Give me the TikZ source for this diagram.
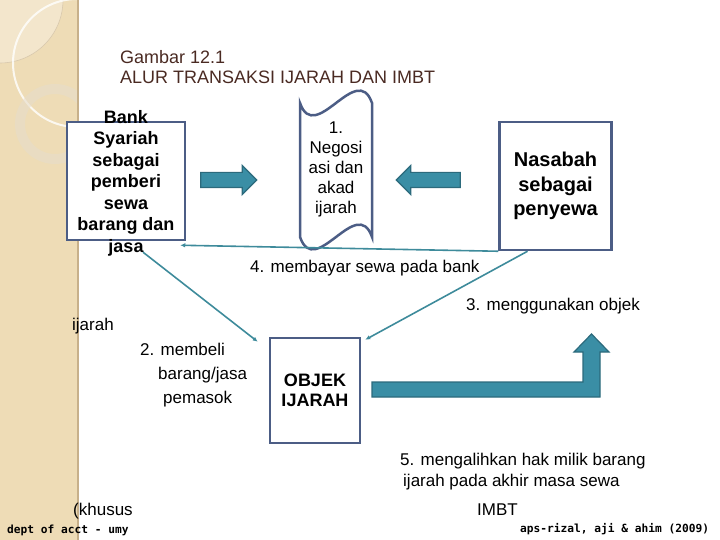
\documentclass[tikz,border=0pt]{standalone}
\usepackage{fontspec}
\setmainfont{Liberation Sans}
\newfontfamily\monofam{DejaVu Sans Mono}
\usetikzlibrary{arrows.meta,positioning,shapes.arrows}
\definecolor{boxblue}{HTML}{4C5D85}
\definecolor{tealline}{HTML}{3E8B9B}
\definecolor{tealfill}{HTML}{3A8EA5}
\definecolor{tealdark}{HTML}{2C6A7C}
\definecolor{titlebrown}{HTML}{4A2A22}
\definecolor{sidebeige}{HTML}{EEDCB6}
\definecolor{sideedge}{HTML}{C7B08A}

\begin{document}
\begin{tikzpicture}[x=1pt, y=-1pt,
    party/.style={draw=boxblue, line width=2.5pt, fill=white, align=center, inner sep=0pt},
    bigarrow/.style={single arrow, draw=tealdark, fill=tealfill, line width=1.2pt, single arrow head extend=7pt, inner sep=7pt, minimum height=#1},
    flow/.style={draw=tealline, line width=1.6pt, -{Latex[length=5pt,width=4.5pt]}},
    lbl/.style={inner sep=0pt, anchor=base west, font=\fontsize{17}{21}\selectfont},
    sig/.style={inner sep=0pt, anchor=base west, font=\monofam\bfseries\fontsize{11.2}{13}\selectfont}
]
    \useasboundingbox (0,0) rectangle (720,540);

    % side strip
    \begin{scope}
        \clip (0,0) rectangle (78,540);
        \fill[sidebeige] (0,0) rectangle (78,540);
        \fill[white, opacity=0.3] (0,0) circle (63pt);
        \draw[sideedge!70, line width=0.6pt] (0,0) circle (63pt);
        \draw[white, opacity=0.8, line width=2pt] (77,63) circle (64pt);
        \draw[sideedge!45, line width=10pt, opacity=0.6] (55,124) circle (35pt);
    \end{scope}
    \draw[sideedge, line width=2pt] (78,0) -- (78,540);

    % title
    \node[inner sep=0pt, anchor=north west, align=left, text=titlebrown,
          font=\fontsize{18}{20}\selectfont] (title) at (120,50)
          {Gambar 12.1\\ALUR TRANSAKSI IJARAH DAN IMBT};

    % parties
    \node[party, minimum width=118, minimum height=118] (bank) at (126,181) {};
    \node[inner sep=0pt, anchor=north, align=center, font=\bfseries\fontsize{18}{21.5}\selectfont]
          (banktext) at (126,110) {Bank\\Syariah\\sebagai\\pemberi\\sewa\\barang dan\\jasa};
    \node[party, minimum width=112, minimum height=128, font=\bfseries\fontsize{20}{24.5}\selectfont]
          (nasabah) at (555.5,186) {Nasabah\\sebagai\\penyewa};
    \node[party, minimum width=90, minimum height=105, font=\bfseries\fontsize{18}{20}\selectfont]
          (objek) at (315,390.5) {OBJEK\\IJARAH};

    % akad (wave shape)
    \draw[boxblue, line width=2.5pt, fill=white]
        (300,103) .. controls (315,146) and (357,60) .. (372,103)
        -- (372,237) .. controls (357,194) and (315,280) .. (300,237) -- cycle;
    \node[inner sep=0pt, anchor=north, align=center, font=\fontsize{17}{20}\selectfont]
          (akad) at (336,122) {1.\\Negosi\\asi dan\\akad\\ijarah};

    % block arrows
    \node[bigarrow=56] (toakad) at (225,180) {};
    \node[bigarrow=64, shape border rotate=180] (fromnasabah) at (432,180) {};
    \draw[draw=tealdark, fill=tealfill, line width=1.2pt]
        (372,382) -- (583,382) -- (583,352) -- (574,352) -- (591.5,334) -- (609,352)
        -- (600,352) -- (600,397) -- (372,397) -- cycle;

    % flows
    \draw[flow] (nasabah.south west) -- ([xshift=-6pt, yshift=-4pt]bank.south east);
    \draw[flow] ([xshift=17pt, yshift=4pt]banktext.south) -- ([xshift=-11pt, yshift=-5pt]objek.north west);
    \draw[flow] ([xshift=-28pt]nasabah.south) -- ([xshift=4pt, yshift=-3pt]objek.north east);

    % labels
    \node[lbl] (l4) at (250,272) {4. membayar sewa pada bank};
    \node[lbl] (l3) at (466,310) {3. menggunakan objek};
    \node[lbl] (lijarah) at (72,330) {ijarah};
    \node[lbl] (l2a) at (140,355) {2. membeli};
    \node[lbl] (l2b) at (158,379) {barang/jasa};
    \node[lbl] (l2c) at (163,403) {pemasok};
    \node[lbl] (l5a) at (400,465) {5. mengalihkan hak milik barang};
    \node[lbl] (l5b) at (403,486) {ijarah pada akhir masa sewa};
    \node[lbl] (limbt) at (477,515) {IMBT};
    \node[lbl] (lkhusus) at (73,515) {(khusus};

    % footer
    \node[sig] (dept) at (7,533) {dept of acct - umy};
    \node[sig] (src) at (520,532) {aps-rizal, aji \& ahim (2009)};
\end{tikzpicture}
\end{document}
